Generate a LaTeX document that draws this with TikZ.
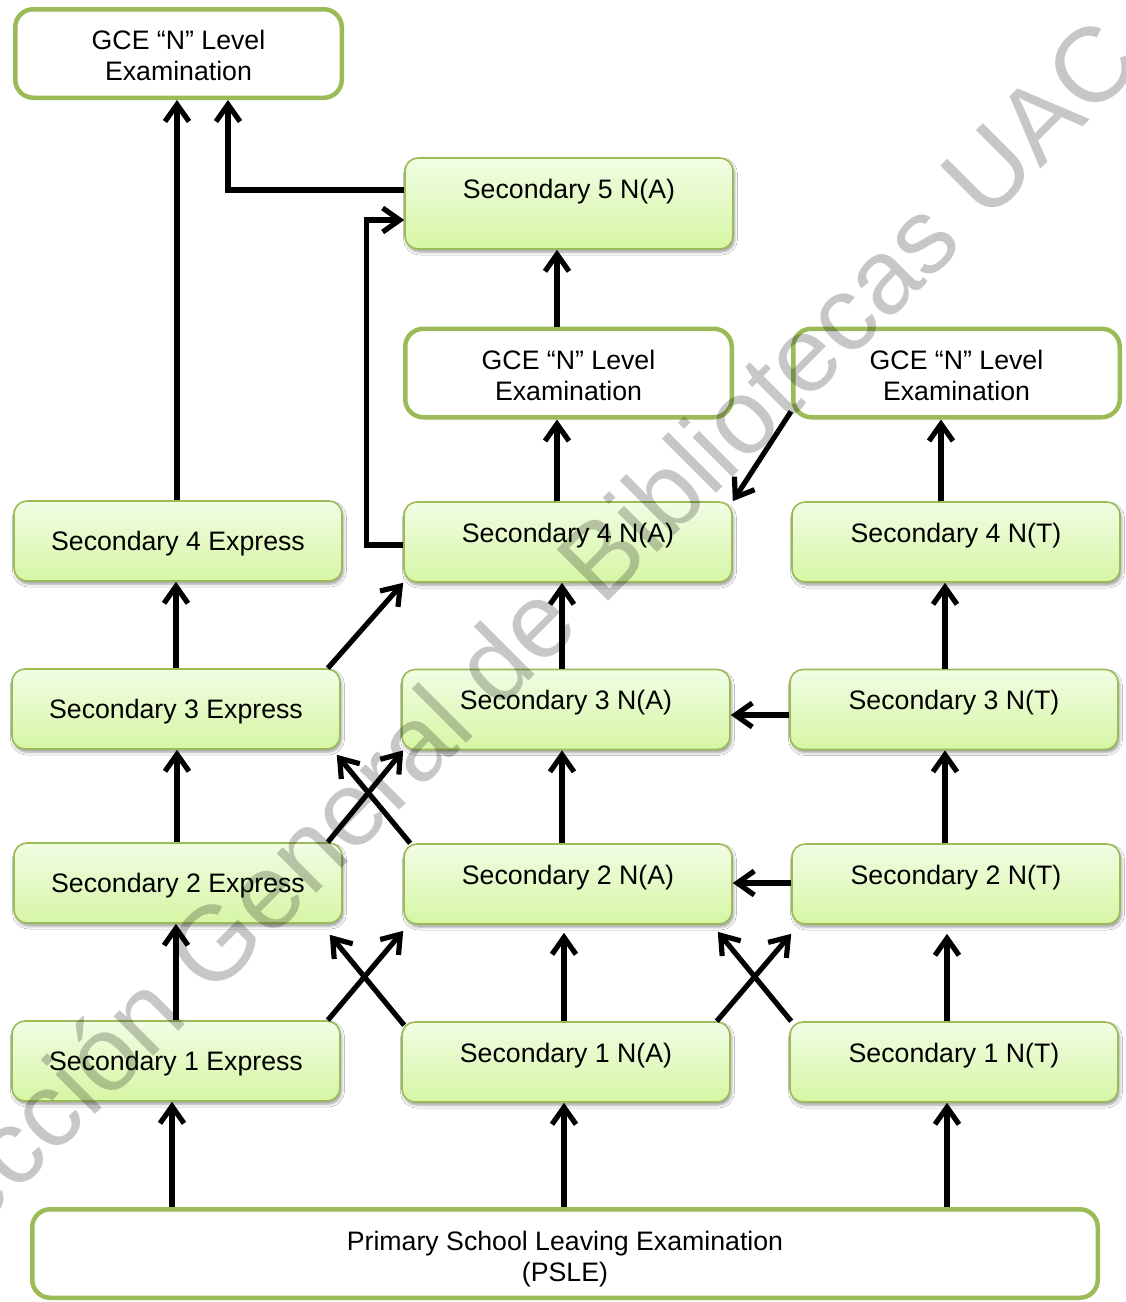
\documentclass[tikz,border=0pt]{standalone}
\usepackage{fontspec}
\setmainfont{Liberation Sans}
\usetikzlibrary{arrows.meta,shadows.blur}

\definecolor{olive}{RGB}{155,187,89}
\definecolor{boxtop}{RGB}{241,253,228}
\definecolor{boxbot}{RGB}{214,246,164}

\newcommand{\twolines}[2]{\begin{tabular}[t]{@{}c@{}}#1\\#2\end{tabular}}

\tikzset{
  stage/.style={draw=olive, line width=1.6pt, rounded corners=13pt,
    top color=boxtop, bottom color=boxbot,
    minimum width=328pt, minimum height=80pt, inner sep=0pt,
    font=\fontsize{26.7}{31}\selectfont,
    blur shadow={shadow xshift=1.5pt, shadow yshift=-3pt,
      shadow blur radius=3pt, shadow opacity=40}},
  track/.style={text height=14pt, text depth=14pt},
  expr/.style={text height=19pt, text depth=0pt},
  fifth/.style={minimum height=91pt, text height=14pt, text depth=24pt},
  exam/.style={draw=olive, line width=4.5pt, rounded corners=18pt,
    fill=white, minimum width=326.5pt, minimum height=88.5pt,
    inner sep=0pt, text height=20pt, text depth=27.8pt,
    font=\fontsize{26.7}{31}\selectfont},
  arr/.style={line width=5.2pt, -{Straight Barb[length=17pt,width=24pt]}},
  wmark/.style={rotate=45, anchor=base, inner sep=0pt,
    font=\fontsize{106}{106}\selectfont, text=black, text opacity=0.22}
}

\begin{document}
\begin{tikzpicture}[x=1pt,y=-1pt]
\useasboundingbox (0,0) rectangle (1126,1302);
\fill[white] (0,0) rectangle (1126,1302);

% examinations
\node[exam] (gceL) at (178.5,53.5) {\twolines{GCE “N” Level}{Examination}};
\node[exam] (gceM) at (568.5,373) {\twolines{GCE “N” Level}{Examination}};
\node[exam] (gceR) at (956.5,373) {\twolines{GCE “N” Level}{Examination}};
\node[exam, minimum width=1065.5pt, text depth=25.8pt] (PSLE) at (565,1253.5)
  {\twolines{Primary School Leaving Examination}{(PSLE)}};

% secondary levels
\node[stage, fifth] (A5) at (569,203.5) {Secondary 5 N(A)};

\node[stage, expr]  (E4) at (178,541) {Secondary 4 Express};
\node[stage, track] (A4) at (568,542) {Secondary 4 N(A)};
\node[stage, track] (T4) at (956,542) {Secondary 4 N(T)};

\node[stage, expr]  (E3) at (176,709)   {Secondary 3 Express};
\node[stage, track] (A3) at (566,709.5) {Secondary 3 N(A)};
\node[stage, track] (T3) at (954,709.5) {Secondary 3 N(T)};

\node[stage, expr]  (E2) at (178,883) {Secondary 2 Express};
\node[stage, track] (A2) at (568,884) {Secondary 2 N(A)};
\node[stage, track] (T2) at (956,884) {Secondary 2 N(T)};

\node[stage, expr]  (E1) at (176,1061) {Secondary 1 Express};
\node[stage, track] (A1) at (566,1062) {Secondary 1 N(A)};
\node[stage, track] (T1) at (954,1062) {Secondary 1 N(T)};

% from PSLE
\draw[arr] ([xshift=-393pt]PSLE.north) -- ([xshift=-4pt]E1.south);
\draw[arr] ([xshift=-1pt]PSLE.north) -- ([xshift=-2pt]A1.south);
\draw[arr] ([xshift=382pt]PSLE.north) -- ([xshift=-7pt]T1.south);

% express stream
\draw[arr] (E1.north) -- ([xshift=-2pt]E2.south);
\draw[arr] ([xshift=-1pt]E2.north) -- ([xshift=1pt]E3.south);
\draw[arr] (E3.north) -- ([xshift=-2pt]E4.south);
\draw[arr] ([xshift=-1pt]E4.north) -- ([xshift=-1.5pt]gceL.south);

% normal (academic) stream
\draw[arr] ([xshift=-2pt]A1.north) -- ([xshift=-4pt,yshift=-8pt]A2.south);
\draw[arr] ([xshift=-6pt]A2.north) -- ([xshift=-4pt]A3.south);
\draw[arr] ([xshift=-4pt]A3.north) -- ([xshift=-6pt]A4.south);
\draw[arr] ([xshift=-11pt]A4.north) -- ([xshift=-11.5pt]gceM.south);
\draw[arr] ([xshift=-11.5pt]gceM.north) -- ([xshift=-12pt]A5.south);
\draw[arr] ([yshift=13.5pt]A5.west) -| ([xshift=49.5pt]gceL.south);
\draw[arr] ([yshift=-3pt]A4.west) -- ++(-37,0) |- ([yshift=-16.5pt]A5.west);

% normal (technical) stream
\draw[arr] ([xshift=-7pt]T1.north) -- ([xshift=-9pt,yshift=-9pt]T2.south);
\draw[arr] ([xshift=-11pt]T2.north) -- ([xshift=-9pt]T3.south);
\draw[arr] ([xshift=-9pt]T3.north) -- ([xshift=-11pt]T4.south);
\draw[arr] ([xshift=-15pt]T4.north) -- ([xshift=-15.5pt]gceR.south);
\draw[arr] ([yshift=8pt]gceR.south west) -- (A4.north east);

% lateral transfers
\draw[arr] ([yshift=1pt]T2.west) -- ([yshift=1pt]A2.east);
\draw[arr] ([yshift=-5.5pt]T3.west) -- ([yshift=-5.5pt]A3.east);
\draw[arr] ([xshift=-13pt]E1.north east) -- ([yshift=-6pt]A2.south west);
\draw[arr] ([xshift=3pt,yshift=-4pt]A1.north west) -- ([xshift=-13pt,yshift=-11pt]E2.south east);
\draw[arr] ([xshift=-14pt]A1.north east) -- ([yshift=-9pt]T2.south west);
\draw[arr] ([xshift=2pt]T1.north west) -- ([xshift=-15pt,yshift=-7pt]A2.south east);
\draw[arr] ([xshift=-15pt]E2.north east) -- ([xshift=2pt]A3.south west);
\draw[arr] ([xshift=7pt]A2.north west) -- ([xshift=-4pt,yshift=-5pt]E3.south east);
\draw[arr] ([xshift=-13pt]E3.north east) -- (A4.south west);

% library stamp
\node[wmark] (wm) at (503,707) {Colección General de Bibliotecas UAC};
\end{tikzpicture}
\end{document}
